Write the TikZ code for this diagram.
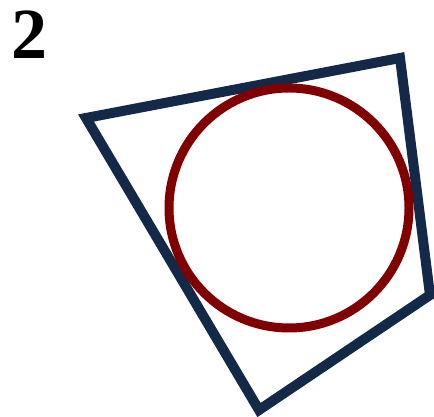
\documentclass[tikz,border=0pt]{standalone}
\usepackage{fontspec}
\setmainfont{Liberation Serif}
\definecolor{navy}{RGB}{20,40,72}
\definecolor{maroon}{RGB}{128,0,0}
\begin{document}
\begin{tikzpicture}[x=1pt,y=1pt,
  quad/.style={draw=navy,line width=10pt,miter limit=10},
  ring/.style={draw=maroon,line width=9pt},
  lbl/.style={font=\fontsize{72}{72}\selectfont\bfseries,inner sep=0pt}]
\useasboundingbox (0,0) rectangle (434,417);
\coordinate (A) at (86,299);
\coordinate (B) at (400,359);
\coordinate (C) at (430,122);
\coordinate (D) at (259,7);
\draw[quad] (A) -- (B) -- (C) -- (D) -- cycle;
\coordinate (O) at (289,209);
\draw[ring] (O) circle[radius=120];
\node[lbl,anchor=base] (n2) at (29,358) {2};
\end{tikzpicture}
\end{document}
